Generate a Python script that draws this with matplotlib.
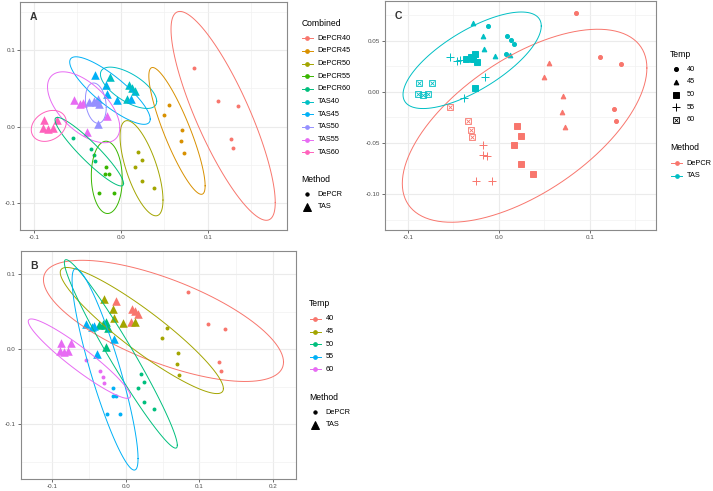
import numpy as np
import matplotlib
matplotlib.use("Agg")
import matplotlib.pyplot as plt
from matplotlib.lines import Line2D

plt.rcParams['font.family'] = ['Liberation Sans', 'DejaVu Sans']

# ---- data (PCoA-like coordinates) ----
temps = ["40", "45", "50", "55", "60"]

depcr_x = {
    "40": [0.0846, 0.1114, 0.1343, 0.1268, 0.1287],
    "45": [0.0554, 0.0495, 0.0703, 0.0691, 0.0729],
    "50": [0.0202, 0.0245, 0.0161, 0.0245, 0.0379],
    "55": [-0.0172, -0.0176, -0.0132, -0.0254, -0.0077],
    "60": [-0.0543, -0.0345, -0.0310, -0.0299],
}
depcr_y = {
    "40": [0.0770, 0.0340, 0.0269, -0.0166, -0.0284],
    "45": [0.0284, 0.0148, -0.0043, -0.0193, -0.0342],
    "50": [-0.0334, -0.0431, -0.0521, -0.0705, -0.0802],
    "55": [-0.0520, -0.0619, -0.0623, -0.0867, -0.0867],
    "60": [-0.0147, -0.0289, -0.0373, -0.0445],
}
tas_x = {
    "40": [-0.0125, 0.0092, 0.0127, 0.0166, 0.0078],
    "45": [-0.0290, -0.0174, -0.0162, -0.0040, 0.0121],
    "50": [-0.0360, -0.0309, -0.0261, -0.0283, -0.0246, -0.0261],
    "55": [-0.0536, -0.0463, -0.0433, -0.0158, -0.0386],
    "60": [-0.0876, -0.0737, -0.0888, -0.0836, -0.0783],
}
tas_y = {
    "40": [0.0642, 0.0541, 0.0508, 0.0468, 0.0364],
    "45": [0.0670, 0.0540, 0.0420, 0.0347, 0.0358],
    "50": [0.0322, 0.0336, 0.0365, 0.0320, 0.0290, 0.0033],
    "55": [0.0342, 0.0297, 0.0310, 0.0141, -0.0064],
    "60": [0.0090, 0.0090, -0.0021, -0.0035, -0.0021],
}

combined_labels = ["DePCR" + t for t in temps] + ["TAS" + t for t in temps]
combined_colors = ["#F8766D", "#D89000", "#A3A500", "#39B600", "#00BF7D",
                   "#00BFC4", "#00B0F6", "#9590FF", "#E76BF3", "#FF62BC"]
temp_colors = ["#F8766D", "#A3A500", "#00BF7D", "#00B0F6", "#E76BF3"]
method_colors = ["#F8766D", "#00BFC4"]

W, H = 713, 491


# ---- stat_ellipse equivalent (type = "t", level = 0.95) ----
def cov_trob(xy, nu=5, maxit=25, tol=0.01):
    n, p = xy.shape
    loc = xy.mean(axis=0)
    w = np.ones(n)
    for _ in range(maxit):
        w0 = w
        X = xy - loc
        _, d, vt = np.linalg.svd(np.sqrt(w / w.sum())[:, None] * X, full_matrices=False)
        wX = X @ vt.T / d
        Q = (wX ** 2).sum(axis=1)
        w = (nu + p) / (nu + Q)
        loc = (w[:, None] * xy).sum(axis=0) / w.sum()
        if np.all(np.abs(w - w0) < tol):
            break
    sX = np.sqrt(w)[:, None] * X
    return sX.T @ sX / n, loc


def ellipse(x, y, level=0.95, seg=120):
    xy = np.column_stack([x, y])
    cov, center = cov_trob(xy)
    dfd = len(x) - 1
    fq = dfd / 2 * ((1 - level) ** (-2 / dfd) - 1)
    radius = np.sqrt(2 * fq)
    t = np.linspace(0, 2 * np.pi, seg + 1)
    circ = np.column_stack([np.cos(t), np.sin(t)])
    R = np.linalg.cholesky(cov).T
    pts = center + radius * circ @ R
    return pts[:, 0], pts[:, 1]


def make_axes(fig, l, t, r, b):
    return fig.add_axes([l / W, 1 - b / H, (r - l) / W, (b - t) / H])


def style(ax, xlim, ylim, xt, xl, yt, yl, xm, ym, letter):
    ax.set_xlim(*xlim)
    ax.set_ylim(*ylim)
    ax.set_xticks(xt)
    ax.set_xticklabels(xl)
    ax.set_yticks(yt)
    ax.set_yticklabels(yl)
    ax.set_xticks(xm, minor=True)
    ax.set_yticks(ym, minor=True)
    ax.grid(which='major', color='#EBEBEB', lw=0.8, zorder=0)
    ax.grid(which='minor', color='#F2F2F2', lw=0.5, zorder=0)
    ax.set_axisbelow(True)
    ax.tick_params(which='major', length=2, width=0.6, color='#555555',
                   labelsize=4.5, labelcolor='#4D4D4D', pad=1.5)
    ax.tick_params(which='minor', length=0)
    for s in ax.spines.values():
        s.set_color('#8a8a8a')
        s.set_linewidth(0.8)
    ax.text(0.035, 0.955, letter, transform=ax.transAxes, fontsize=7.5,
            fontweight='bold', color='#333333', ha='left', va='top')


def fx(x):
    return x / W


def fy(y):
    return 1 - y / H


def key_line(fig, x0, x1, y, color):
    fig.add_artist(Line2D([fx(x0), fx(x1)], [fy(y), fy(y)], color=color, lw=0.7,
                          transform=fig.transFigure))
    fig.add_artist(Line2D([fx((x0 + x1) / 2)], [fy(y)], marker='o', ms=2.4, color=color,
                          lw=0, transform=fig.transFigure))


def key_marker(fig, x, y, shape, ms):
    if shape == 'boxx':
        fig.add_artist(Line2D([fx(x)], [fy(y)], marker='s', ms=ms, mfc='none', mec='black',
                              mew=0.6, lw=0, transform=fig.transFigure))
        fig.add_artist(Line2D([fx(x)], [fy(y)], marker='x', ms=ms * 0.75, mec='black',
                              mew=0.6, lw=0, transform=fig.transFigure))
    else:
        fig.add_artist(Line2D([fx(x)], [fy(y)], marker=shape, ms=ms, color='black',
                              mew=0.7, lw=0, transform=fig.transFigure))


def txt(fig, x, y, s, size=5.3):
    fig.text(fx(x), fy(y), s, fontsize=size, ha='left', va='center', color='black')


fig = plt.figure(figsize=(W / 100, H / 100), dpi=100)

# ---------------- panel A ----------------
axA = make_axes(fig, 20, 2, 286.7, 230)
for i, t in enumerate(temps):
    for src_x, src_y, col, mk, sz in [(depcr_x, depcr_y, combined_colors[i], 'o', 8),
                                     (tas_x, tas_y, combined_colors[i + 5], '^', 38)]:
        axA.scatter(src_x[t], src_y[t], s=sz, marker=mk, color=col, lw=0, zorder=3)
for i, t in enumerate(temps):
    ex, ey = ellipse(depcr_x[t], depcr_y[t])
    axA.plot(ex, ey, color=combined_colors[i], lw=0.7, zorder=4)
    ex, ey = ellipse(tas_x[t], tas_y[t])
    axA.plot(ex, ey, color=combined_colors[i + 5], lw=0.7, zorder=4)
style(axA, (-0.1157, 0.1908), (-0.1347, 0.1626),
      [-0.1, 0.0, 0.1], ["-0.1", "0.0", "0.1"],
      [-0.1, 0.0, 0.1], ["-0.1", "0.0", "0.1"],
      [-0.05, 0.05, 0.15], [-0.05, 0.05, 0.15], "A")

txt(fig, 301.7, 23.3, "Combined", 6.2)
for i, lab in enumerate(combined_labels):
    y = 38.3 + 12.65 * i
    key_line(fig, 301.7, 312.7, y, combined_colors[i])
    txt(fig, 317.5, y, lab)
txt(fig, 301.7, 180, "Method", 6.2)
key_marker(fig, 307.2, 194.3, 'o', 2.4)
txt(fig, 317.5, 194.3, "DePCR")
key_marker(fig, 307.2, 207, '^', 6)
txt(fig, 317.5, 207, "TAS")

# ---------------- panel B ----------------
axB = make_axes(fig, 20.7, 251, 295.7, 479.3)
for i, t in enumerate(temps):
    axB.scatter(depcr_x[t], depcr_y[t], s=8, marker='o', color=temp_colors[i], lw=0, zorder=3)
    axB.scatter(tas_x[t], tas_y[t], s=38, marker='^', color=temp_colors[i], lw=0, zorder=3)
for i, t in enumerate(temps):
    ex, ey = ellipse(depcr_x[t] + tas_x[t], depcr_y[t] + tas_y[t])
    axB.plot(ex, ey, color=temp_colors[i], lw=0.7, zorder=4)
style(axB, (-0.1425, 0.2307), (-0.1733, 0.131),
      [-0.1, 0.0, 0.1, 0.2], ["-0.1", "0.0", "0.1", "0.2"],
      [-0.1, 0.0, 0.1], ["-0.1", "0.0", "0.1"],
      [-0.05, 0.05, 0.15], [-0.15, -0.05, 0.05], "B")

txt(fig, 309, 304, "Temp", 6.2)
for i, t in enumerate(temps):
    y = 319 + 12.6 * i
    key_line(fig, 309.5, 320.5, y, temp_colors[i])
    txt(fig, 325.7, y, t)
txt(fig, 309, 397.7, "Method", 6.2)
key_marker(fig, 315, 412.3, 'o', 2.4)
txt(fig, 325.7, 412.3, "DePCR")
key_marker(fig, 315, 425, '^', 6)
txt(fig, 325.7, 425, "TAS")

# ---------------- panel C ----------------
axC = make_axes(fig, 384.7, 1, 656.3, 230)
shapes = ['o', '^', 's', '+', 'boxx']
shape_ms = [2.9, 3.4, 4.0, 5.6, 4.6]
for i, t in enumerate(temps):
    for src_x, src_y, col in [(depcr_x, depcr_y, method_colors[0]),
                              (tas_x, tas_y, method_colors[1])]:
        if shapes[i] == 'boxx':
            axC.plot(src_x[t], src_y[t], ls='none', marker='s', ms=shape_ms[i], mfc='none',
                     mec=col, mew=0.6, zorder=3)
            axC.plot(src_x[t], src_y[t], ls='none', marker='x', ms=shape_ms[i] * 0.75,
                     mec=col, mew=0.6, zorder=3)
        else:
            axC.plot(src_x[t], src_y[t], ls='none', marker=shapes[i], ms=shape_ms[i],
                     color=col, mew=0.7, zorder=3)
all_dx = sum((depcr_x[t] for t in temps), [])
all_dy = sum((depcr_y[t] for t in temps), [])
all_tx = sum((tas_x[t] for t in temps), [])
all_ty = sum((tas_y[t] for t in temps), [])
ex, ey = ellipse(all_dx, all_dy)
axC.plot(ex, ey, color=method_colors[0], lw=0.7, zorder=4)
ex, ey = ellipse(all_tx, all_ty)
axC.plot(ex, ey, color=method_colors[1], lw=0.7, zorder=4)
style(axC, (-0.1256, 0.1729), (-0.135, 0.0886),
      [-0.1, 0.0, 0.1], ["-0.1", "0.0", "0.1"],
      [-0.10, -0.05, 0.0, 0.05], ["-0.10", "-0.05", "0.00", "0.05"],
      [-0.05, 0.05, 0.15], [-0.125, -0.075, -0.025, 0.025, 0.075], "C")

txt(fig, 670, 54.3, "Temp", 6.2)
for i, t in enumerate(temps):
    y = 69.3 + 12.67 * i
    key_marker(fig, 676.3, y, shapes[i], shape_ms[i])
    txt(fig, 686.7, y, t)
txt(fig, 670, 147.7, "Method", 6.2)
for i, lab in enumerate(["DePCR", "TAS"]):
    y = 163.3 + 12.4 * i
    key_line(fig, 671, 682, y, method_colors[i])
    txt(fig, 686.7, y, lab)

fig.savefig("out.png", dpi=100)
